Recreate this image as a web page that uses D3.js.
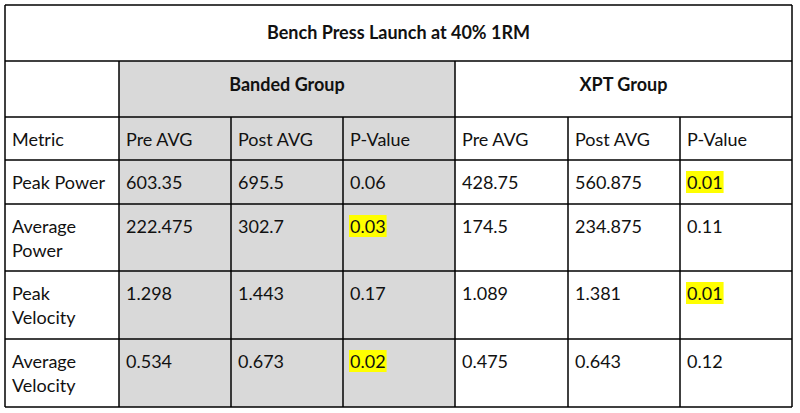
<!DOCTYPE html>
<html><head><meta charset="utf-8">
<script src="https://cdn.jsdelivr.net/npm/d3@7"></script>
<style>body{margin:0;background:#fff}text{font-family:Lato,"Open Sans",sans-serif;font-size:18px;fill:#111}</style>
</head><body><svg width="800" height="413"></svg>
<script>
var title = "Bench Press Launch at 40% 1RM";
var groups = ["Banded Group", "XPT Group"];
var headers = ["Metric", "Pre AVG", "Post AVG", "P-Value", "Pre AVG", "Post AVG", "P-Value"];
var metrics = [["Peak Power"], ["Average", "Power"], ["Peak", "Velocity"], ["Average", "Velocity"]];
var bandedPre = ["603.35", "222.475", "1.298", "0.534"];
var bandedPost = ["695.5", "302.7", "1.443", "0.673"];
var bandedP = ["0.06", "0.03", "0.17", "0.02"];
var xptPre = ["428.75", "174.5", "1.089", "0.475"];
var xptPost = ["560.875", "234.875", "1.381", "0.643"];
var xptP = ["0.01", "0.11", "0.01", "0.12"];

var colX = [5, 119, 231, 343, 455, 568, 680, 792];
var rowY = [5, 61, 117, 160, 204, 271, 339, 407];
var svg = d3.select("svg");

// gray banded area
svg.append("rect").attr("x", colX[1]).attr("y", rowY[1]).attr("width", colX[4] - colX[1])
  .attr("height", rowY[7] - rowY[1]).attr("fill", "#d9d9d9");

var cols = [bandedPre, bandedPost, bandedP, xptPre, xptPost, xptP];
svg.append("text").attr("x", (colX[0] + colX[7]) / 2).attr("y", 39).attr("text-anchor", "middle")
  .attr("font-weight", "bold").text(title);
groups.forEach(function (g, i) {
  svg.append("text").attr("x", (colX[1 + i * 3] + colX[4 + i * 3]) / 2).attr("y", 91)
    .attr("text-anchor", "middle").attr("font-weight", "bold").text(g);
});
headers.forEach(function (h, i) {
  svg.append("text").attr("x", colX[i] + 7).attr("y", 146).text(h);
});
metrics.forEach(function (m, r) {
  var base = rowY[3 + r] + 29;
  m.forEach(function (line, k) {
    svg.append("text").attr("x", colX[0] + 7).attr("y", base + k * 24).text(line);
  });
  cols.forEach(function (c, ci) {
    var v = c[r];
    var t = svg.append("text").attr("x", colX[ci + 1] + 7).attr("y", base).text(v);
    if ((ci == 2 || ci == 5) && parseFloat(v) < 0.05) {
      var bb = t.node().getBBox();
      svg.insert("rect", "text").attr("x", bb.x - 1).attr("y", bb.y).attr("width", bb.width + 2)
        .attr("height", bb.height).attr("fill", "#ffff00");
    }
  });
});

// grid lines
var lines = svg.append("g").attr("stroke", "#000").attr("stroke-width", 1.5);
rowY.forEach(function (y) {
  lines.append("line").attr("x1", colX[0]).attr("x2", colX[7]).attr("y1", y).attr("y2", y);
});
colX.forEach(function (x, i) {
  var y1 = (i == 0 || i == 7) ? rowY[0] : (i == 1 || i == 4) ? rowY[1] : rowY[2];
  lines.append("line").attr("x1", x).attr("x2", x).attr("y1", y1).attr("y2", rowY[7]);
});
</script></body></html>
